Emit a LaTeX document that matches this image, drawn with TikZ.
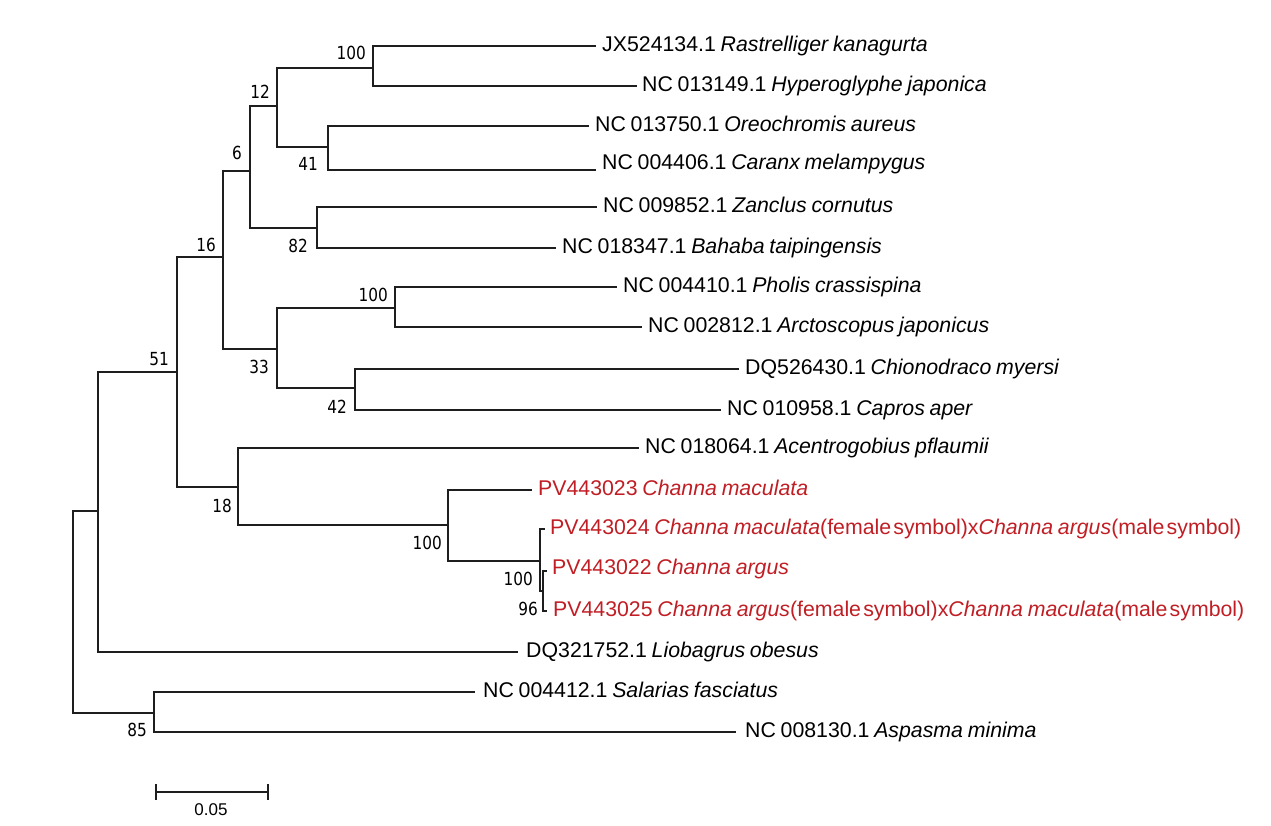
\documentclass[tikz,border=0pt]{standalone}
\usepackage{fontspec}
\setmainfont{Liberation Sans}[WordSpace=0.8]
\newfontfamily\bsfont{DejaVu Sans}[FakeStretch=0.85]
\newcommand\tsp{\hspace{2.2pt}}
\definecolor{tipred}{RGB}{192,30,36}
\definecolor{linegray}{RGB}{30,30,30}
\tikzset{
  br/.style={line width=1.8pt, draw=linegray, line cap=rect},
  tip/.style={anchor=base west, inner sep=0pt, xshift=7pt, yshift=-5.5pt, font=\fontsize{21.3}{24}\selectfont},
  redtip/.style={tip, text=tipred},
  bs/.style={anchor=east, inner sep=0pt, font=\bsfont\fontsize{18}{21}\selectfont},
  sbl/.style={inner sep=0pt, font=\fontsize{17}{20}\selectfont},
}
\begin{document}
\begin{tikzpicture}[x=1pt,y=-1pt]
\useasboundingbox (0,0) rectangle (1271,826);
% internal nodes (x, attach y)
\coordinate (root) at (73,611);
\coordinate (r2) at (98,511);
\coordinate (n85) at (154,713);
\coordinate (n51) at (177,372);
\coordinate (n16) at (223,257);
\coordinate (n6) at (250,171);
\coordinate (n12) at (277,106);
\coordinate (n100a) at (373,68);
\coordinate (n41) at (328,147);
\coordinate (n82) at (317,228);
\coordinate (n33) at (277,349);
\coordinate (n100b) at (395,308);
\coordinate (n42) at (355,388);
\coordinate (n18) at (238,487);
\coordinate (n100c) at (448,525);
\coordinate (nA) at (540,561);
\coordinate (nB) at (543,591);
% tips
\coordinate (t1) at (595,46);
\coordinate (t2) at (636,86);
\coordinate (t3) at (588,126);
\coordinate (t4) at (595,170);
\coordinate (t5) at (596,207);
\coordinate (t6) at (555,248);
\coordinate (t7) at (616,287);
\coordinate (t8) at (641,327);
\coordinate (t9) at (738,369);
\coordinate (t10) at (720,410);
\coordinate (t11) at (638,448);
\coordinate (t12) at (531,490);
\coordinate (t13) at (544,529);
\coordinate (t14) at (546,571);
\coordinate (t15) at (546,611);
\coordinate (t16) at (517,652);
\coordinate (t17) at (474,692);
\coordinate (t18) at (735,732);
% branches
\draw[br] (root) |- (r2);
\draw[br] (root) |- (n85);
\draw[br] (r2) |- (n51);
\draw[br] (r2) |- (t16);
\draw[br] (n85) |- (t17);
\draw[br] (n85) |- (t18);
\draw[br] (n51) |- (n16);
\draw[br] (n51) |- (n18);
\draw[br] (n16) |- (n6);
\draw[br] (n16) |- (n33);
\draw[br] (n6) |- (n12);
\draw[br] (n6) |- (n82);
\draw[br] (n12) |- (n100a);
\draw[br] (n12) |- (n41);
\draw[br] (n100a) |- (t1);
\draw[br] (n100a) |- (t2);
\draw[br] (n41) |- (t3);
\draw[br] (n41) |- (t4);
\draw[br] (n82) |- (t5);
\draw[br] (n82) |- (t6);
\draw[br] (n33) |- (n100b);
\draw[br] (n33) |- (n42);
\draw[br] (n100b) |- (t7);
\draw[br] (n100b) |- (t8);
\draw[br] (n42) |- (t9);
\draw[br] (n42) |- (t10);
\draw[br] (n18) |- (t11);
\draw[br] (n18) |- (n100c);
\draw[br] (n100c) |- (t12);
\draw[br] (n100c) |- (nA);
\draw[br] (nA) |- (t13);
\draw[br] (nA) |- (nB);
\draw[br] (nB) |- (t14);
\draw[br] (nB) |- (t15);
% tip labels
\node[tip] (l1) at (t1) {JX524134.1 \textit{Rastrelliger kanagurta}};
\node[tip, xshift=-1pt] (l2) at (t2) {NC 013149.1 \textit{Hyperoglyphe japonica}};
\node[tip] (l3) at (t3) {NC 013750.1 \textit{Oreochromis aureus}};
\node[tip, yshift=6pt] (l4) at (t4) {NC 004406.1 \textit{Caranx melampygus}};
\node[tip] (l5) at (t5) {NC 009852.1 \textit{Zanclus cornutus}};
\node[tip] (l6) at (t6) {NC 018347.1 \textit{Bahaba taipingensis}};
\node[tip] (l7) at (t7) {NC 004410.1 \textit{Pholis crassispina}};
\node[tip] (l8) at (t8) {NC 002812.1 \textit{Arctoscopus japonicus}};
\node[tip] (l9) at (t9) {DQ526430.1 \textit{Chionodraco myersi}};
\node[tip] (l10) at (t10) {NC 010958.1 \textit{Capros aper}};
\node[tip] (l11) at (t11) {NC 018064.1 \textit{Acentrogobius pflaumii}};
\node[redtip] (l12) at (t12) {PV443023 \textit{Channa maculata}};
\node[redtip, xshift=-1pt] (l13) at (t13) {PV443024 \textit{Channa maculata}(female\tsp symbol)x\textit{Channa argus}(male\tsp symbol)};
\node[redtip, xshift=-1pt, yshift=2pt] (l14) at (t14) {PV443022 \textit{Channa argus}};
\node[redtip] (l15) at (t15) {PV443025 \textit{Channa argus}(female\tsp symbol)x\textit{Channa maculata}(male\tsp symbol)};
\node[tip, xshift=2pt] (l16) at (t16) {DQ321752.1 \textit{Liobagrus obesus}};
\node[tip, xshift=2pt] (l17) at (t17) {NC 004412.1 \textit{Salarias fasciatus}};
\node[tip, xshift=3pt] (l18) at (t18) {NC 008130.1 \textit{Aspasma minima}};
% bootstrap values
\node[bs] (b100a) at (366,53) {100};
\node[bs] (b12) at (270,92) {12};
\node[bs] (b6) at (242,153) {6};
\node[bs] (b41) at (318,164) {41};
\node[bs] (b16) at (216,245) {16};
\node[bs] (b82) at (308,246) {82};
\node[bs] (b100b) at (388,295) {100};
\node[bs] (b51) at (169,359) {51};
\node[bs] (b33) at (269,367) {33};
\node[bs] (b42) at (347,407) {42};
\node[bs] (b18) at (232,506) {18};
\node[bs] (b100c) at (442,543) {100};
\node[bs] (b100d) at (533,579) {100};
\node[bs] (b96) at (538,609) {96};
\node[bs] (b85) at (147,730) {85};
% scale bar
\coordinate (sbL) at (156,792);
\coordinate (sbR) at (268,792);
\draw[br] (sbL) -- (sbR);
\draw[br] ([yshift=7pt]sbL) -- ([yshift=-7pt]sbL);
\draw[br] ([yshift=7pt]sbR) -- ([yshift=-7pt]sbR);
\node[sbl] (sblab) at (211,810) {0.05};
\end{tikzpicture}
\end{document}
